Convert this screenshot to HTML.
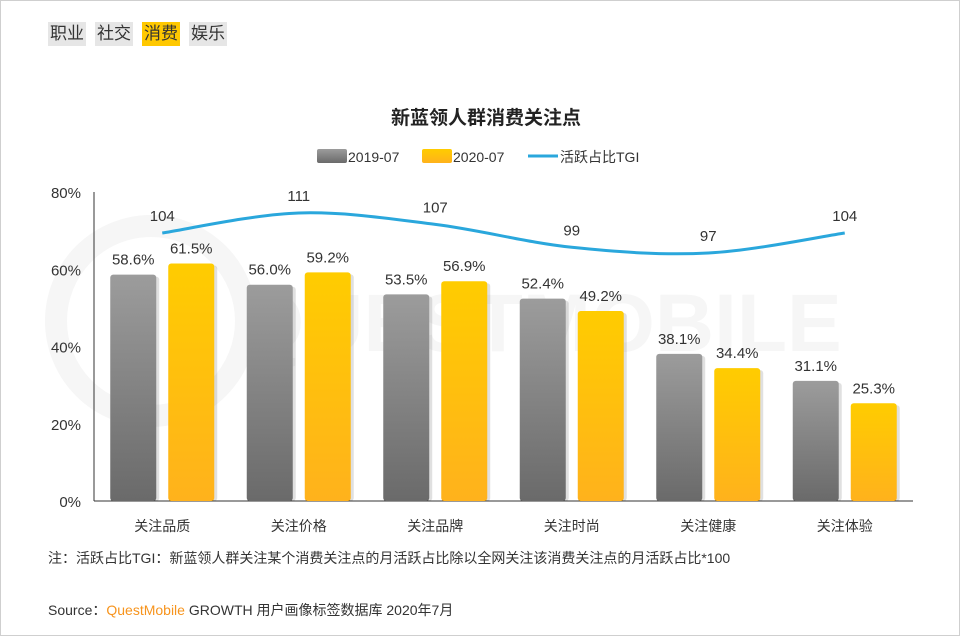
<!DOCTYPE html>
<html><head><meta charset="utf-8">
<style>
body{margin:0;background:#fff;font-family:"Liberation Sans","Noto Sans CJK SC",sans-serif;}
#wrap{position:relative;width:958px;height:634px;border:1px solid #cfcfcf;overflow:hidden;}
.tab{position:absolute;top:21px;height:24px;line-height:24px;font-size:17px;background:#e6e6e6;color:#333;padding:0 2px;}
</style></head><body>
<div id="wrap">
<div class="tab" style="left:47px">职业</div>
<div class="tab" style="left:94px">社交</div>
<div class="tab" style="left:141px;background:#ffc800">消费</div>
<div class="tab" style="left:188px">娱乐</div>
<svg id="chart" width="958" height="634" style="position:absolute;left:0;top:0">
<defs>
<linearGradient id="gg" x1="0" y1="0" x2="0" y2="1"><stop offset="0" stop-color="#9c9c9c"/><stop offset="1" stop-color="#6a6a6a"/></linearGradient>
<linearGradient id="yg" x1="0" y1="0" x2="0" y2="1"><stop offset="0" stop-color="#ffcc00"/><stop offset="1" stop-color="#ffb21c"/></linearGradient>
</defs>
<circle cx="150" cy="320" r="95" fill="none" stroke="#f6f6f6" stroke-width="22"/>
<text x="540" y="350" text-anchor="middle" font-size="82" font-weight="bold" fill="#f6f6f6">QUESTMOBILE</text>
<text x="485" y="123" text-anchor="middle" font-size="19" font-weight="bold" fill="#222">新蓝领人群消费关注点</text>
<g>
<rect x="316" y="148" width="30" height="14" rx="2" fill="url(#gg)"/>
<text x="347" y="161" font-size="14" fill="#333">2019-07</text>
<rect x="421" y="148" width="30" height="14" rx="2" fill="url(#yg)"/>
<text x="452" y="161" font-size="14" fill="#333">2020-07</text>
<line x1="527" y1="155" x2="557" y2="155" stroke="#2aa7dc" stroke-width="3"/>
<text x="559" y="161" font-size="14" fill="#333">活跃占比TGI</text>
</g>
<g id="plot"></g>
<text x="47" y="562" font-size="14" fill="#333">注：活跃占比TGI：新蓝领人群关注某个消费关注点的月活跃占比除以全网关注该消费关注点的月活跃占比*100</text>
<text x="47" y="614" font-size="14" fill="#333">Source：<tspan fill="#f7941d">QuestMobile</tspan> GROWTH 用户画像标签数据库 2020年7月</text>
</svg>
</div>
<script>
const categories=["关注品质","关注价格","关注品牌","关注时尚","关注健康","关注体验"];
const s2019=[58.6,56.0,53.5,52.4,38.1,31.1];
const s2020=[61.5,59.2,56.9,49.2,34.4,25.3];
const tgi=[104,111,107,99,97,104];
const yTicks=[0,20,40,60,80];
const NS="http://www.w3.org/2000/svg";
const g=document.getElementById('plot');
const x0=93,x1=912,yb=500,yt=191;
const step=(x1-x0)/categories.length;
const cx=i=>x0+step*(i+0.5);
const y=v=>yb-(v/80)*(yb-yt);
const yT=v=>232-(v-104)*2.86;
function el(t,a){const e=document.createElementNS(NS,t);for(const k in a)e.setAttribute(k,a[k]);g.appendChild(e);return e;}
yTicks.forEach(v=>{const t=el('text',{x:80,y:y(v)+6,'text-anchor':'end','font-size':15,fill:'#333'});t.textContent=v+'%';

});
const ax=el('line',{x1:x0,y1:yt,x2:x0,y2:yb,stroke:'#333','stroke-width':1});


const bx=el('line',{x1:x0,y1:yb,x2:x1,y2:yb,stroke:'#333','stroke-width':1});


categories.forEach((c,i)=>{
  [[s2019[i],-29,'url(#gg)','bar-2019'],[s2020[i],29,'url(#yg)','bar-2020']].forEach(([v,off,f,n])=>{
    const bxx=cx(i)+off-23;
    const sh=el('rect',{x:bxx+3,y:y(v)+2,width:46,height:yb-y(v)-2,rx:3,fill:'#000',opacity:0.12});
    
    
    const r=el('rect',{x:bxx,y:y(v),width:46,height:yb-y(v),rx:3,fill:f});
    
    
    const t=el('text',{x:cx(i)+off,y:y(v)-10,'text-anchor':'middle','font-size':15,fill:'#333'});t.textContent=v.toFixed(1)+'%';
    
    
  });
  const l=el('text',{x:cx(i),y:530,'text-anchor':'middle','font-size':14,fill:'#333'});l.textContent=c;
  
  
});
const pts=tgi.map((v,i)=>[cx(i),yT(v)]);
let d='M'+pts[0][0]+','+pts[0][1];
for(let i=0;i<pts.length-1;i++){const p0=pts[Math.max(i-1,0)],p1=pts[i],p2=pts[i+1],p3=pts[Math.min(i+2,pts.length-1)];
d+=` C${p1[0]+(p2[0]-p0[0])/6},${p1[1]+(p2[1]-p0[1])/6} ${p2[0]-(p3[0]-p1[0])/6},${p2[1]-(p3[1]-p1[1])/6} ${p2[0]},${p2[1]}`;}
const line=el('path',{d:d,fill:'none',stroke:'#2aa7dc','stroke-width':3});


tgi.forEach((v,i)=>{const t=el('text',{x:cx(i),y:yT(v)-12,'text-anchor':'middle','font-size':15,fill:'#333'});t.textContent=v;

});
</script>
</body></html>
